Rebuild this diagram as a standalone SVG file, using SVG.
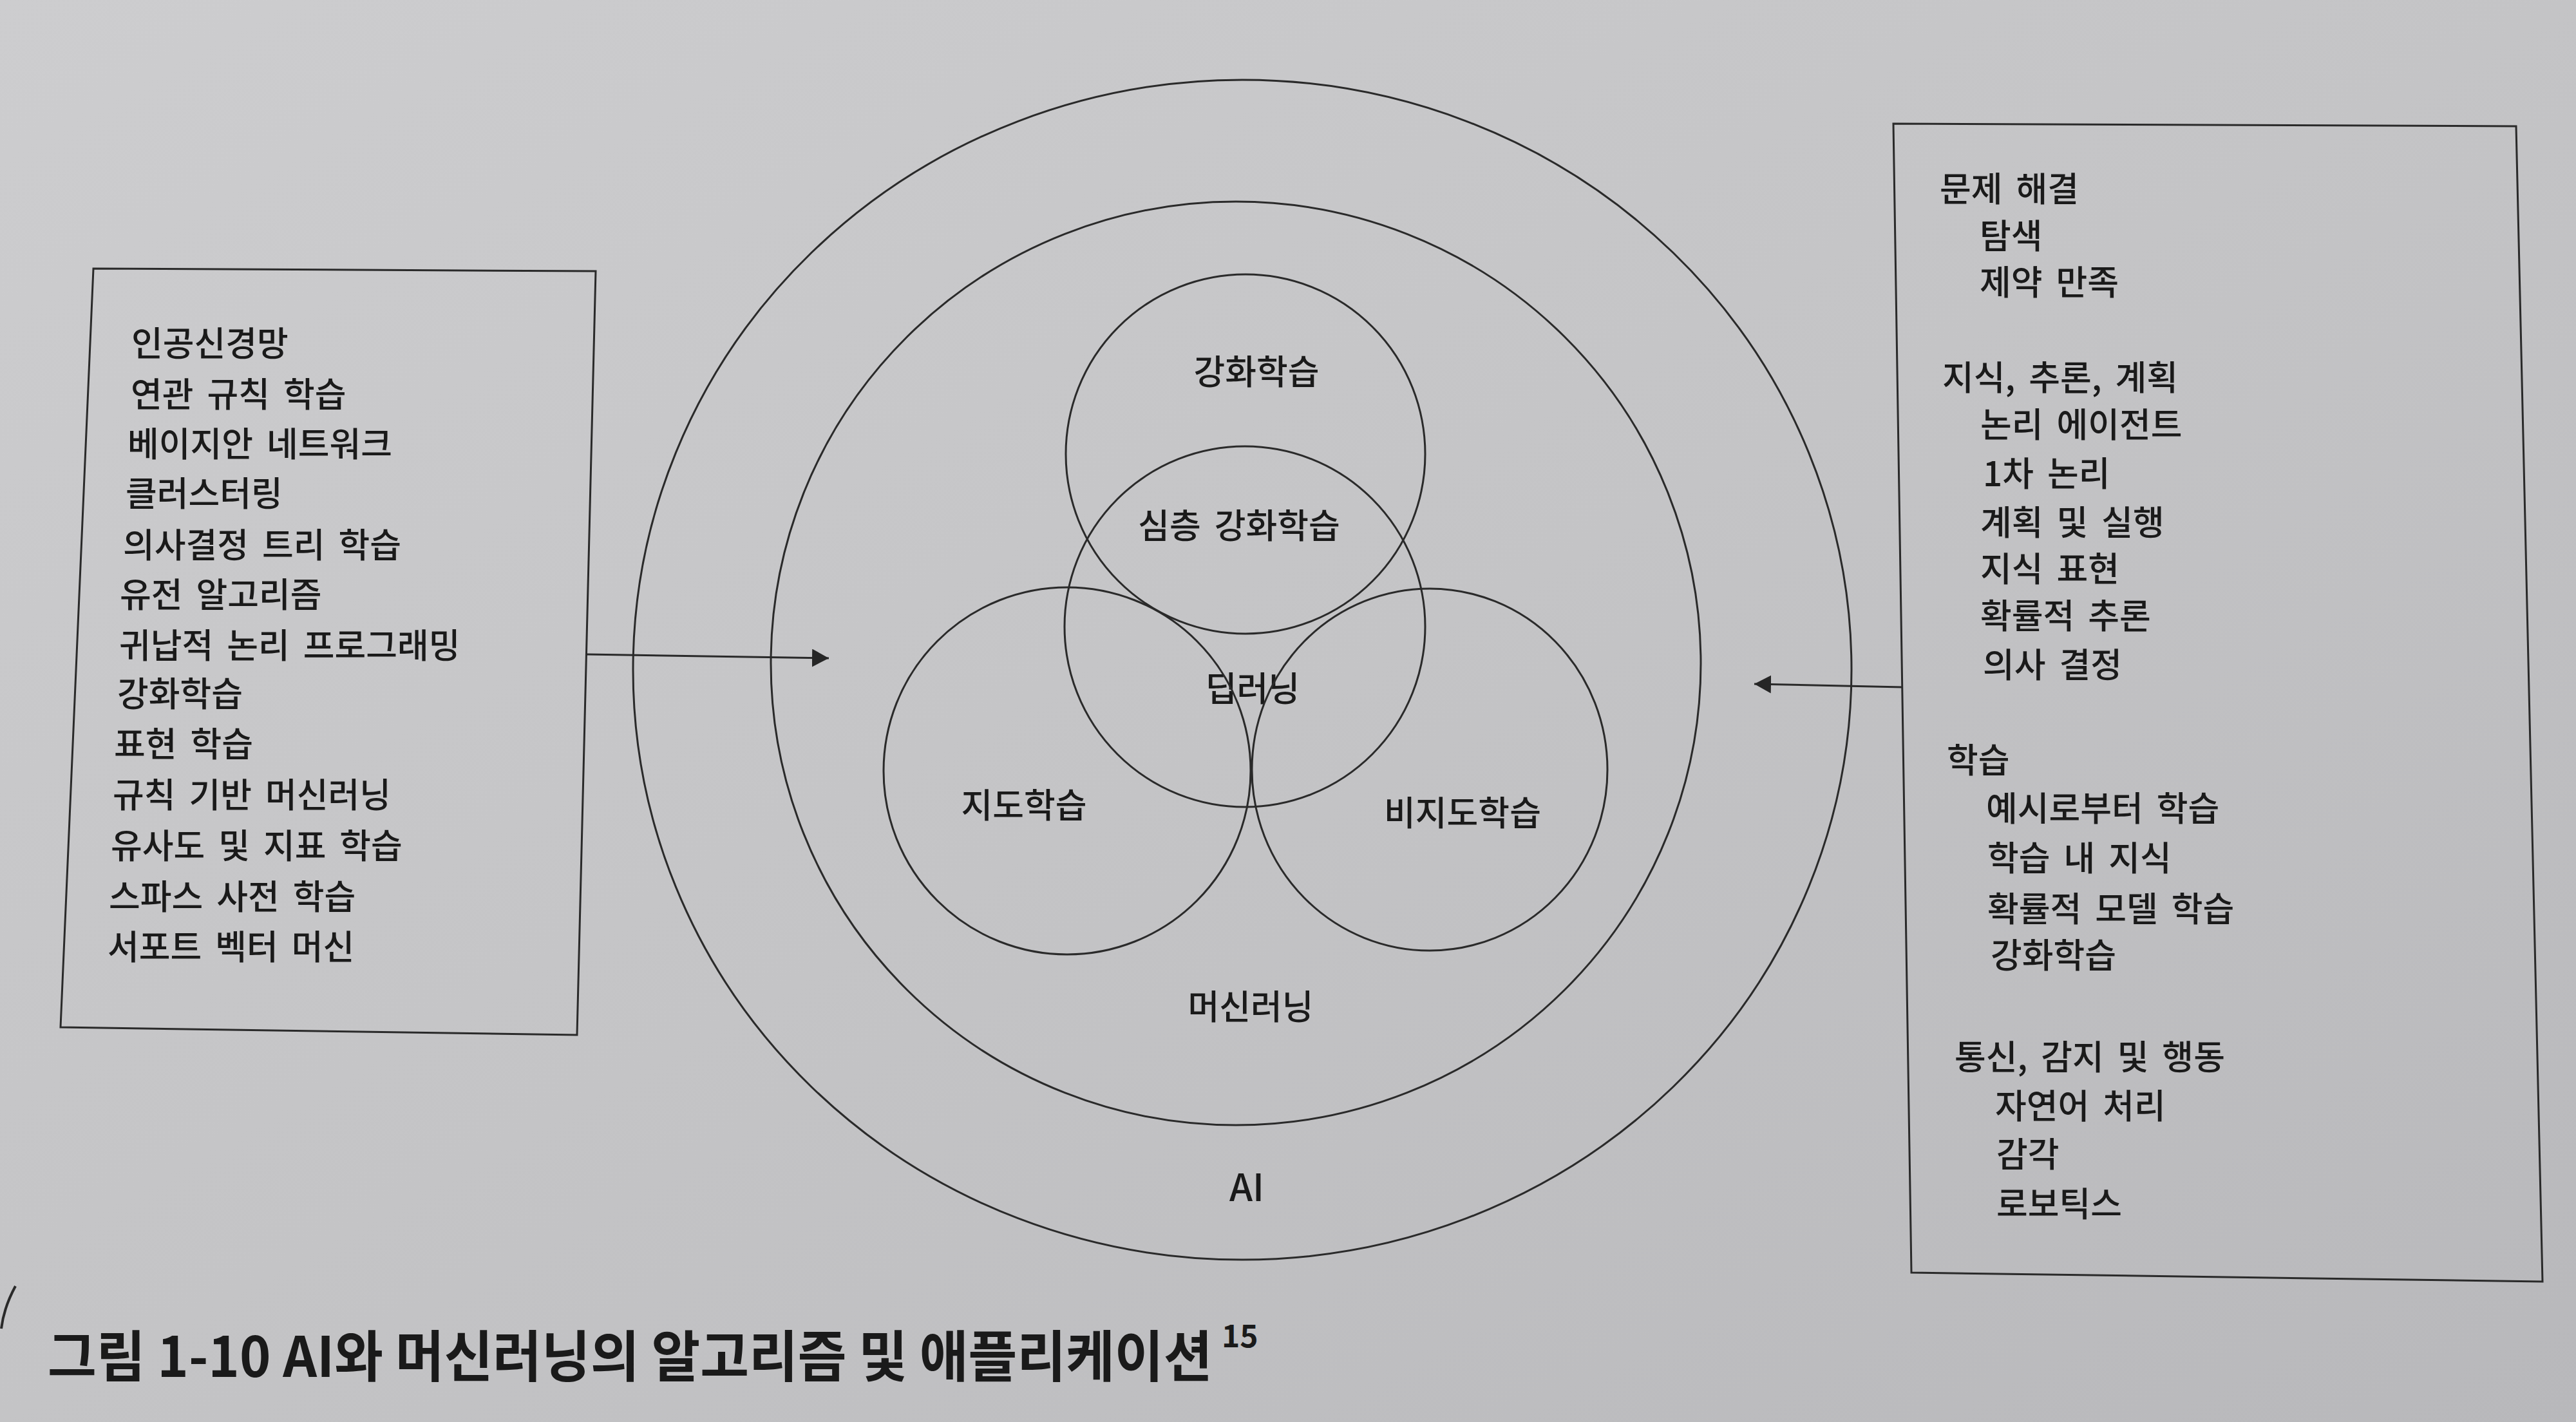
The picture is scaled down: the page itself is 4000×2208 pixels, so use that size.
<svg xmlns="http://www.w3.org/2000/svg" width="4000" height="2208" viewBox="0 0 4000 2208">
  <defs>
    <linearGradient id="paper" x1="0" y1="0" x2="1" y2="1">
      <stop offset="0" stop-color="#cdcdcf"/>
      <stop offset="0.5" stop-color="#c4c4c6"/>
      <stop offset="1" stop-color="#b8b8bb"/>
    </linearGradient>
    <marker id="arrow" markerUnits="userSpaceOnUse" markerWidth="30" markerHeight="30" refX="26" refY="14" orient="auto">
      <path d="M0,0 L26,14 L0,28 Z" fill="#262626"/>
    </marker>
    <style>
      .ln { fill: none; stroke: #2a2a2a; stroke-width: 3; }
      .t { font-family: "Noto Sans CJK KR", "Noto Sans", sans-serif; font-size: 53px; font-weight: 500; fill: #1a1a1a; word-spacing: 9px; }
      .c { text-anchor: middle; }
      .cap { font-family: "Noto Sans CJK KR", "Noto Sans", sans-serif; font-weight: bold; fill: #1a1a1a; }
    </style>
  </defs>

  <rect x="0" y="0" width="4000" height="2208" fill="url(#paper)"/>

  <g id="ai">
    <ellipse class="ln" cx="1929" cy="1040" rx="946" ry="916"/>
    <text class="t c" x="1936" y="1865" style="font-size:58px">AI</text>
  </g>

  <g id="machine-learning">
    <ellipse class="ln" cx="1919" cy="1030" rx="722" ry="717"/>
    <text class="t c" x="1942" y="1583">머신러닝</text>
  </g>

  <g id="reinforcement-learning">
    <circle class="ln" cx="1934" cy="705" r="279"/>
    <text class="t c" x="1951" y="597">강화학습</text>
  </g>

  <g id="deep-learning">
    <circle class="ln" cx="1933" cy="973" r="280"/>
    <text class="t c" x="1945" y="1089">딥러닝</text>
  </g>

  <g id="deep-reinforcement-learning">
    <text class="t c" x="1924" y="836">심층 강화학습</text>
  </g>

  <g id="supervised-learning">
    <circle class="ln" cx="1657" cy="1197" r="285"/>
    <text class="t c" x="1590" y="1270">지도학습</text>
  </g>

  <g id="unsupervised-learning">
    <ellipse class="ln" cx="2220" cy="1195" rx="276" ry="281"/>
    <text class="t c" x="2271" y="1282">비지도학습</text>
  </g>

  <g id="algorithms">
    <polygon class="ln" points="145,417 925,421 896,1607 94,1595"/>
    <text class="t" x="204" y="553">인공신경망</text>
    <text class="t" x="203" y="632">연관 규칙 학습</text>
    <text class="t" x="198" y="709">베이지안 네트워크</text>
    <text class="t" x="195" y="786">클러스터링</text>
    <text class="t" x="191" y="866">의사결정 트리 학습</text>
    <text class="t" x="186" y="943">유전 알고리즘</text>
    <text class="t" x="185" y="1022">귀납적 논리 프로그래밍</text>
    <text class="t" x="182" y="1097">강화학습</text>
    <text class="t" x="177" y="1175">표현 학습</text>
    <text class="t" x="175" y="1254">규칙 기반 머신러닝</text>
    <text class="t" x="172" y="1333">유사도 및 지표 학습</text>
    <text class="t" x="169" y="1412">스파스 사전 학습</text>
    <text class="t" x="167" y="1490">서포트 벡터 머신</text>
  </g>

  <g id="applications">
    <polygon class="ln" points="2940,192 3907,196 3948,1990 2968,1976"/>
    <text class="t" x="3012" y="313">문제 해결</text>
    <text class="t" x="3074" y="386">탐색</text>
    <text class="t" x="3074" y="458">제약 만족</text>
    <text class="t" x="3016" y="606">지식, 추론, 계획</text>
    <text class="t" x="3075" y="679">논리 에이전트</text>
    <text class="t" x="3079" y="755">1차 논리</text>
    <text class="t" x="3075" y="831">계획 및 실행</text>
    <text class="t" x="3075" y="903">지식 표현</text>
    <text class="t" x="3075" y="976">확률적 추론</text>
    <text class="t" x="3079" y="1052">의사 결정</text>
    <text class="t" x="3023" y="1200">학습</text>
    <text class="t" x="3084" y="1275">예시로부터 학습</text>
    <text class="t" x="3086" y="1352">학습 내 지식</text>
    <text class="t" x="3086" y="1431">확률적 모델 학습</text>
    <text class="t" x="3091" y="1503">강화학습</text>
    <text class="t" x="3035" y="1661">통신, 감지 및 행동</text>
    <text class="t" x="3098" y="1737">자연어 처리</text>
    <text class="t" x="3100" y="1812">감각</text>
    <text class="t" x="3100" y="1889">로보틱스</text>
  </g>

  <g id="connectors">
    <line class="ln" x1="910" y1="1016" x2="1287" y2="1022" marker-end="url(#arrow)"/>
    <line class="ln" x1="2954" y1="1067" x2="2724" y2="1062" marker-end="url(#arrow)"/>
  </g>

  <g id="caption">
    <text class="cap" transform="translate(74,2138) scale(0.958,1)" x="0" y="0" font-size="86">그림 1-10 AI와 머신러닝의 알고리즘 및 애플리케이션</text>
    <text class="cap" x="1897" y="2092" font-size="48">15</text>
  </g>

  <path d="M24,1997 Q6,2030 2,2063" fill="none" stroke="#2a2a2a" stroke-width="4"/>
</svg>
